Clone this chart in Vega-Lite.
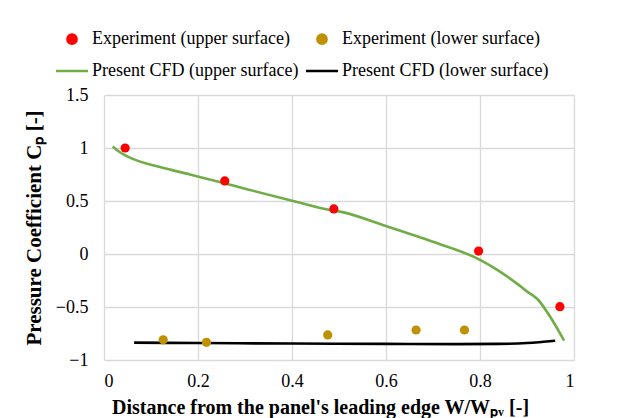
{
  "$schema": "https://vega.github.io/schema/vega-lite/v6.json",
  "autosize": {"type": "none"},
  "padding": {"left": 104, "top": 95, "right": 59, "bottom": 58},
  "width": 470,
  "height": 265,
  "background": "white",
  "config": {
    "font": "Liberation Serif",
    "view": {"stroke": null},
    "axis": {"labelFont": "Liberation Serif", "titleFont": "Liberation Serif", "labelColor": "#000", "titleColor": "#000"},
    "legend": {"labelFont": "Liberation Serif"}
  },
  "datasets": {
    "exp": [
      {"x": 0.045, "cp": 1.0, "series": "Experiment (upper surface)"},
      {"x": 0.257, "cp": 0.689, "series": "Experiment (upper surface)"},
      {"x": 0.489, "cp": 0.425, "series": "Experiment (upper surface)"},
      {"x": 0.797, "cp": 0.028, "series": "Experiment (upper surface)"},
      {"x": 0.970, "cp": -0.497, "series": "Experiment (upper surface)"},
      {"x": 0.126, "cp": -0.81, "series": "Experiment (lower surface)"},
      {"x": 0.218, "cp": -0.833, "series": "Experiment (lower surface)"},
      {"x": 0.476, "cp": -0.764, "series": "Experiment (lower surface)"},
      {"x": 0.664, "cp": -0.717, "series": "Experiment (lower surface)"},
      {"x": 0.767, "cp": -0.717, "series": "Experiment (lower surface)"}
    ],
    "cfd": [
      {"x": 0.0185, "cp": 1.015, "series": "Present CFD (upper surface)"},
      {"x": 0.034, "cp": 0.96, "series": "Present CFD (upper surface)"},
      {"x": 0.06, "cp": 0.90, "series": "Present CFD (upper surface)"},
      {"x": 0.119, "cp": 0.82, "series": "Present CFD (upper surface)"},
      {"x": 0.183, "cp": 0.75, "series": "Present CFD (upper surface)"},
      {"x": 0.25, "cp": 0.675, "series": "Present CFD (upper surface)"},
      {"x": 0.3, "cp": 0.616, "series": "Present CFD (upper surface)"},
      {"x": 0.4, "cp": 0.503, "series": "Present CFD (upper surface)"},
      {"x": 0.481, "cp": 0.415, "series": "Present CFD (upper surface)"},
      {"x": 0.502, "cp": 0.40, "series": "Present CFD (upper surface)"},
      {"x": 0.6, "cp": 0.264, "series": "Present CFD (upper surface)"},
      {"x": 0.7, "cp": 0.116, "series": "Present CFD (upper surface)"},
      {"x": 0.8, "cp": -0.055, "series": "Present CFD (upper surface)"},
      {"x": 0.835, "cp": -0.145, "series": "Present CFD (upper surface)"},
      {"x": 0.878, "cp": -0.277, "series": "Present CFD (upper surface)"},
      {"x": 0.899, "cp": -0.35, "series": "Present CFD (upper surface)"},
      {"x": 0.924, "cp": -0.434, "series": "Present CFD (upper surface)"},
      {"x": 0.949, "cp": -0.59, "series": "Present CFD (upper surface)"},
      {"x": 0.979, "cp": -0.818, "series": "Present CFD (upper surface)"},
      {"x": 0.064, "cp": -0.836, "series": "Present CFD (lower surface)"},
      {"x": 0.2, "cp": -0.84, "series": "Present CFD (lower surface)"},
      {"x": 0.4, "cp": -0.845, "series": "Present CFD (lower surface)"},
      {"x": 0.6, "cp": -0.848, "series": "Present CFD (lower surface)"},
      {"x": 0.75, "cp": -0.85, "series": "Present CFD (lower surface)"},
      {"x": 0.84, "cp": -0.848, "series": "Present CFD (lower surface)"},
      {"x": 0.9, "cp": -0.84, "series": "Present CFD (lower surface)"},
      {"x": 0.96, "cp": -0.818, "series": "Present CFD (lower surface)"}
    ]
  },
  "encoding": {
    "x": {
      "field": "x", "type": "quantitative",
      "scale": {"domain": [0, 1], "nice": false, "zero": false},
      "axis": {
        "values": [0, 0.2, 0.4, 0.6, 0.8, 1],
        "labelExpr": "datum.value === 0 || datum.value === 1 ? format(datum.value, 'd') : format(datum.value, '.1f')",
        "title": "Distance from the panel's leading edge W/Wₚᵥ [-]",
        "titleFontSize": 20, "titleFontWeight": "bold", "titleX": 216, "titleY": 53, "titleAlign": "center", "titleBaseline": "alphabetic",
        "labelFontSize": 18, "labelPadding": 12,
        "ticks": false, "domain": false,
        "grid": true, "gridColor": "#d9d9d9", "gridWidth": 1.3
      }
    },
    "y": {
      "field": "cp", "type": "quantitative",
      "scale": {"domain": [-1, 1.5], "nice": false, "zero": false},
      "axis": {
        "values": [-1, -0.5, 0, 0.5, 1, 1.5],
        "labelExpr": "datum.value % 1 === 0 ? format(datum.value, 'd') : format(datum.value, '.1f')",
        "title": "Pressure Coefficient Cₚ [-]",
        "titleFontSize": 21, "titleFontWeight": "bold", "titlePadding": 11,
        "labelFontSize": 18, "labelPadding": 16,
        "ticks": false, "domain": false,
        "grid": true, "gridColor": "#d9d9d9", "gridWidth": 1.3
      }
    }
  },
  "layer": [
    {
      "data": {"name": "cfd"},
      "mark": {"type": "line", "strokeWidth": 2.6, "interpolate": "monotone"},
      "encoding": {
        "order": {"field": "x", "type": "quantitative"},
        "stroke": {
          "field": "series", "type": "nominal",
          "scale": {
            "domain": ["Experiment (upper surface)", "Experiment (lower surface)", "Present CFD (upper surface)", "Present CFD (lower surface)"],
            "range": ["#ff0000", "#bf9000", "#70ad47", "#000000"]
          },
          "legend": {
            "orient": "none", "legendX": -41, "legendY": -65,
            "columns": 2, "direction": "horizontal", "title": null,
            "labelFont": "Liberation Serif", "labelFontSize": 18, "labelColor": "#000", "labelLimit": 400,
            "labelOffset": 11, "columnPadding": 2, "rowPadding": 13,
            "symbolStrokeWidth": 2.5, "symbolSize": 85
          }
        }
      }
    },
    {
      "data": {"name": "exp"},
      "mark": {"type": "point", "filled": true, "opacity": 1, "strokeWidth": 0, "size": 85},
      "encoding": {
        "fill": {
          "field": "series", "type": "nominal",
          "scale": {
            "domain": ["Experiment (upper surface)", "Experiment (lower surface)", "Present CFD (upper surface)", "Present CFD (lower surface)"],
            "range": ["#ff0000", "#bf9000", "#70ad47", "#000000"]
          }
        },
        "stroke": {"field": "series", "type": "nominal"},
        "shape": {
          "field": "series", "type": "nominal",
          "scale": {
            "domain": ["Experiment (upper surface)", "Experiment (lower surface)", "Present CFD (upper surface)", "Present CFD (lower surface)"],
            "range": ["circle", "circle", "M-3.47,0H3.47", "M-3.47,0H3.47"]
          }
        }
      }
    }
  ]
}
